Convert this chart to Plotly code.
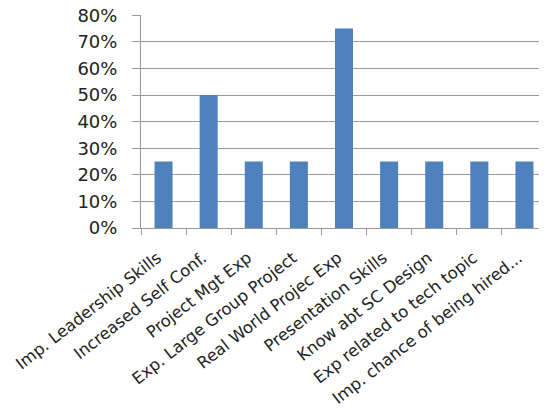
import plotly.graph_objects as go

categories = ["Imp. Leadership Skills", "Increased Self Conf.", "Project Mgt Exp",
              "Exp. Large Group Project", "Real World Projec Exp", "Presentation Skills",
              "Know abt SC Design", "Exp related to tech topic", "Imp. chance of being hired..."]
values = [0.25, 0.50, 0.25, 0.25, 0.75, 0.25, 0.25, 0.25, 0.25]
y_ticks = [0, 0.1, 0.2, 0.3, 0.4, 0.5, 0.6, 0.7, 0.8]
y_tick_labels = ["0%", "10%", "20%", "30%", "40%", "50%", "60%", "70%", "80%"]

fig = go.Figure(go.Bar(x=categories, y=values, marker=dict(color="#4F81BD", line=dict(width=0))))

fig.update_layout(
    width=539, height=400,
    margin=dict(l=133, r=0, t=7, b=180),
    paper_bgcolor="white", plot_bgcolor="white",
    bargap=0.6,
    showlegend=False,
    font=dict(family="DejaVu Sans", size=18, color="#222222"),
)
fig.update_yaxes(
    range=[0, 0.801], tickvals=y_ticks, ticktext=y_tick_labels,
    showgrid=True, gridcolor="#999999", gridwidth=1,
    showline=True, linecolor="#999999", linewidth=1,
    ticks="outside", ticklen=8, tickcolor="#999999",
    tickfont=dict(size=18), zeroline=False, automargin=False,
    ticklabelstandoff=11, ticklabeloverflow="allow",
)
fig.update_xaxes(
    tickangle=-38, tickson="boundaries",
    showline=True, linecolor="#999999", linewidth=1,
    ticks="outside", ticklen=6, tickcolor="#999999",
    tickfont=dict(size=16.4), automargin=False, ticklabeloverflow="allow",
    ticklabelshift=-6, ticklabelstandoff=13,
)
fig.write_html("out.html")
